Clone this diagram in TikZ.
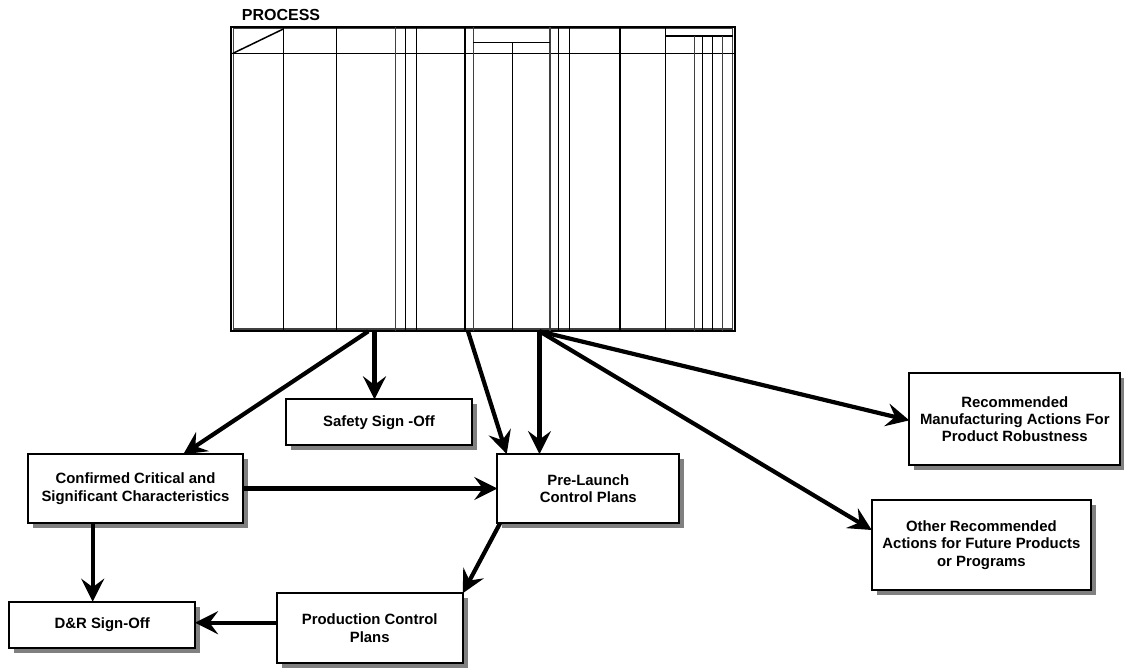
\documentclass[tikz,border=0pt]{standalone}
\usepackage{fontspec}
\setmainfont{Liberation Sans}
\usetikzlibrary{arrows.meta,shadows,calc}

\begin{document}
\begin{tikzpicture}[x=1pt,y=-1pt,
  box/.style={draw, line width=1.8pt, fill=white, inner sep=0pt, outer sep=0pt,
    align=center, font=\bfseries\fontsize{14.9}{17.4}\selectfont,
    drop shadow={shadow xshift=5pt, shadow yshift=-5pt, fill=black!50, opacity=1}},
  flow/.style={line width=4.2pt, -{Stealth[length=23pt,width=23pt,inset=8.5pt]}},
  gridline/.style={line width=1.5pt},
  faintline/.style={line width=1.1pt, black!75},
  frame/.style={draw, line width=1.8pt, inner sep=0pt, outer sep=0pt},
]
\useasboundingbox (0,0) rectangle (1124,667);

% ---------- worksheet form ----------
\node[anchor=base west, inner sep=0pt, font=\bfseries\fontsize{16}{19}\selectfont]
  (title) at (241.7,20.7) {PROCESS};
\node[frame, minimum width=504pt, minimum height=304.6pt] (tbl) at (483,179) {};
\draw[faintline] (233.3,28.8) rectangle (732.7,329);

% header rule and corner diagonal
\draw[gridline] (231,53.3) -- (735,53.3);
\draw[gridline] (233,53.3) -- (283.3,29);

% full-height column rules
\foreach \x in {283.3,336.7,405.7,416.7,465,558.7,569.3,620,665.3}
  \draw[gridline] (\x,27) -- (\x,331);
\foreach \x in {395.7,473.3,550}
  \draw[faintline] (\x,27) -- (\x,331);

% split header over the middle columns
\draw[gridline] (473.3,42.7) -- (550,42.7);
\draw[gridline] (512.3,42.7) -- (512.3,331);

% split header over the right-hand columns
\draw[gridline] (665.3,36) -- (733,36);
\foreach \x in {702.7,712.7}
  \draw[gridline] (\x,36) -- (\x,331);
\foreach \x in {694.7,722.7}
  \draw[faintline] (\x,36) -- (\x,331);

% ---------- output boxes ----------
\node[box, minimum width=186pt, minimum height=45.7pt] (safety) at (379,422.2)
  {Safety Sign -Off};
\node[box, minimum width=215.6pt, minimum height=68.4pt] (conf) at (135.5,488.5)
  {Confirmed Critical and\\Significant Characteristics};
\node[box, minimum width=182pt, minimum height=69.3pt] (pre) at (588.3,488.7)
  {Pre-Launch\\Control Plans};
\node[box, minimum width=186pt, minimum height=69.4pt] (prod) at (369.7,628)
  {Production Control\\Plans};
\node[box, minimum width=185.7pt, minimum height=46.6pt] (dr) at (102.2,625)
  {D\&R Sign-Off};
\node[box, minimum width=211pt, minimum height=91.7pt] (rec) at (1014.8,419.2)
  {Recommended\\Manufacturing Actions For\\Product Robustness};
\node[box, minimum width=219.3pt, minimum height=90pt] (oth) at (981.4,545)
  {Other Recommended\\Actions for Future Products\\or Programs};

% ---------- connectors ----------
\coordinate (s1) at ($(tbl.south west)+(137.3,0)$);
\coordinate (s2) at ($(tbl.south west)+(143.5,0)$);
\coordinate (s3) at ($(tbl.south west)+(237,0)$);
\coordinate (s4) at ($(tbl.south west)+(308.5,0)$);

\draw[flow] (s1) -- ($(conf.north west)+(155.6,0)$);
\draw[flow] (s2) -- (s2 |- safety.north);
\draw[flow] (s3) -- ($(pre.north west)+(9.4,0)$);
\draw[flow] (s4) -- (s4 |- pre.north);
\draw[flow] (s4) -- ($(rec.north west)+(0,47)$);
\draw[flow] (s4) -- ($(oth.north west)+(0,30)$);

\draw[flow] (conf.east) -- (conf.east -| pre.west);
\coordinate (c1) at ($(conf.south west)+(65,0)$);
\draw[flow] (c1) -- (c1 |- dr.north);
\draw[flow] ($(pre.south west)+(2.7,0)$) -- (prod.north east);
\coordinate (p1) at ($(prod.north west)+(0,29.4)$);
\draw[flow] (p1) -- (p1 -| dr.east);
\end{tikzpicture}
\end{document}
